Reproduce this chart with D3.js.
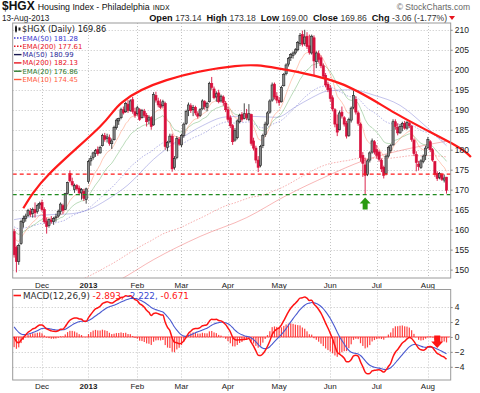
<!DOCTYPE html>
<html>
<head>
<meta charset="utf-8">
<script src="https://cdn.jsdelivr.net/npm/d3@7"></script>
<style>
body { margin: 0; background: #fff; }
svg { display: block; font-family: "Liberation Sans", Arial, sans-serif; }
</style>
</head>
<body>
<svg id="chart" width="480" height="393"></svg>
<script>
var firstDay = "2012-11-14", lastDay = "2013-08-13";
var holidays = ["2012-11-22","2012-12-25","2013-01-01","2013-01-21","2013-02-18",
                "2013-03-29","2013-05-27","2013-07-04"];
var monthLabels = ["Dec","2013","Feb","Mar","Apr","May","Jun","Jul","Aug"];
var priceTicks = [150,155,160,165,170,175,180,185,190,195,200,205,210];
var macdTicks = [-4,-2,0,2,4];

var open = [159.5,155.5,152.0,156.5,161.8,162.8,163.6,164.6,164.0,165.0,164.5,166.2,
  166.8,165.0,162.0,161.0,162.4,162.0,163.0,163.4,164.5,166.0,165.0,169.0,174.0,172.0,170.0,171.0,170.4,169.2,169.6,167.5,
  172.0,177.2,178.0,179.0,180.0,179.2,181.0,183.5,182.8,183.0,181.5,182.5,185.5,187.2,188.0,190.0,189.5,191.4,189.8,192.5,189.5,
  189.0,190.0,188.0,189.6,188.6,187.4,188.0,186.2,193.6,192.2,191.4,191.0,191.6,180.6,182.0,183.4,175.5,178.0,182.6,
  181.2,183.6,186.6,189.8,191.0,190.0,190.6,189.0,188.6,190.2,192.0,190.6,192.0,196.6,195.2,193.2,194.2,192.2,193.2,191.6,
  190.0,188.0,186.0,182.4,183.0,187.0,188.8,187.8,189.0,187.6,188.8,182.2,180.4,177.4,176.0,181.0,183.8,186.4,189.4,192.4,196.4,193.4,
  192.4,192.0,196.0,199.0,201.4,203.0,203.6,204.2,205.0,206.6,208.8,206.6,208.4,206.0,204.2,208.0,202.0,204.0,203.0,201.0,198.6,196.4,
  195.4,193.0,190.0,186.4,185.0,189.4,188.0,186.6,183.6,187.4,190.6,192.6,189.2,186.4,178.6,176.2,173.8,177.4,179.4,182.0,
  180.0,179.4,177.4,175.6,174.0,178.4,179.8,181.2,187.0,185.6,184.2,185.8,186.6,185.4,186.6,185.8,182.4,178.8,176.4,175.6,177.0,178.6,
  180.6,182.0,180.0,177.0,174.0,173.0,173.8,172.4,173.14];
var high = [160.2,156.0,156.5,162.5,163.5,164.0,165.2,165.4,165.5,166.8,166.5,167.0,
  167.5,165.6,163.0,162.8,163.4,163.2,164.0,165.0,166.8,166.5,169.2,172.0,174.8,173.0,171.5,171.4,171.0,170.4,170.2,170.5,
  177.5,178.5,179.5,180.2,180.8,181.0,184.0,184.2,184.0,183.8,182.8,186.0,187.8,188.0,190.5,190.8,192.0,192.4,192.6,193.2,190.5,
  191.0,190.4,190.2,190.2,189.2,188.6,188.4,194.4,194.5,193.0,192.6,192.5,192.0,182.2,184.0,184.0,178.4,183.4,183.2,
  184.0,186.8,190.0,191.8,191.6,191.2,191.0,189.6,190.4,192.6,192.4,192.0,197.0,198.2,195.8,194.6,195.0,193.8,193.6,192.2,
  190.8,188.6,186.4,185.4,187.6,189.0,189.4,191.6,190.2,191.4,189.0,183.0,181.0,178.4,181.2,184.0,187.0,189.6,192.6,196.8,196.8,194.4,
  193.2,196.0,199.2,201.6,203.2,204.2,204.6,205.4,207.2,209.2,209.8,210.0,209.4,208.8,208.8,208.6,204.6,204.8,203.6,201.6,199.2,197.0,
  196.2,193.6,190.4,188.8,189.8,190.8,188.4,187.2,188.0,190.8,194.8,193.4,189.6,186.8,179.4,178.0,177.6,179.6,182.8,182.4,
  181.2,179.8,177.8,176.0,178.8,181.0,181.4,187.6,187.6,186.6,186.4,187.0,187.2,187.2,187.4,186.2,182.8,179.6,177.2,177.6,178.8,181.0,
  183.2,182.4,180.4,177.2,174.6,174.4,174.2,173.8,173.18];
var low = [153.0,149.3,151.2,156.2,160.5,162.0,163.2,163.2,163.0,163.0,164.0,165.2,
  164.5,161.5,159.0,160.5,161.5,161.2,162.0,163.0,163.8,164.0,165.0,168.8,171.8,170.8,169.2,169.8,168.6,167.5,167.2,166.5,
  171.5,176.0,177.5,178.2,178.5,179.0,180.8,182.0,181.8,181.0,180.2,182.3,185.0,186.2,187.6,188.8,189.2,189.2,189.5,189.0,188.0,
  188.5,187.2,187.8,188.0,185.8,186.4,185.0,186.0,191.8,190.6,190.2,190.5,180.0,179.6,181.6,174.5,175.0,177.6,181.0,
  180.6,183.0,186.2,188.4,189.2,188.4,188.6,187.8,188.2,190.0,190.0,189.6,191.8,195.0,192.6,192.0,191.6,191.8,191.0,189.4,
  187.0,185.4,181.2,182.0,182.6,186.6,187.0,187.6,187.4,187.2,181.0,179.8,176.6,174.4,175.6,180.4,183.2,186.0,189.0,192.0,192.6,191.6,
  191.0,191.8,195.8,198.6,200.8,202.2,202.8,203.8,204.6,206.0,205.8,206.0,205.2,203.8,203.8,198.6,200.4,201.8,200.4,197.8,195.6,194.4,
  192.0,189.6,185.6,183.4,184.8,187.8,185.8,182.8,183.2,186.8,190.2,188.8,186.0,177.0,173.2,168.8,173.4,176.8,179.0,178.8,
  177.8,177.0,174.4,172.8,173.6,178.0,179.2,181.0,185.0,183.6,184.0,184.6,185.0,185.0,185.4,182.0,178.4,174.6,174.8,175.2,176.6,177.4,
  180.2,179.4,177.0,173.2,172.2,172.6,172.2,171.8,169.0];
var close = [153.7,152.0,156.0,162.0,162.8,163.4,164.8,163.8,165.0,164.2,166.0,166.5,
  165.0,162.0,160.8,162.5,162.0,162.8,163.2,164.6,166.4,164.8,169.0,171.8,172.2,171.2,171.0,170.2,169.2,170.0,167.8,170.2,
  177.0,177.8,179.2,179.8,179.0,180.6,183.6,182.6,183.2,181.6,182.2,185.6,187.4,187.8,190.0,189.2,191.6,189.8,192.2,189.6,188.6,
  190.5,187.6,189.8,188.6,187.0,188.0,185.8,193.8,192.4,191.2,190.6,192.0,180.8,181.8,183.4,175.2,177.8,182.8,181.4,
  183.6,186.4,189.6,191.2,189.8,190.6,189.2,188.4,190.0,192.2,190.8,191.6,196.6,195.6,193.0,194.0,192.0,193.4,191.8,190.0,
  187.6,186.0,182.0,184.8,187.2,188.6,187.6,189.0,188.0,189.0,181.6,180.4,177.4,175.6,180.8,183.6,186.4,189.2,192.2,196.2,193.2,192.4,
  191.8,195.6,198.8,201.2,202.8,203.8,204.2,205.0,206.8,208.6,206.4,208.2,205.8,204.4,208.4,202.2,204.2,202.6,201.0,198.4,196.2,195.0,
  192.8,190.2,186.4,184.4,189.2,188.4,186.4,183.4,187.6,190.4,193.6,189.4,186.6,178.0,176.6,173.6,177.2,179.2,182.2,179.4,
  178.6,177.6,175.2,173.6,178.4,180.6,181.0,187.0,185.8,184.2,185.8,186.6,185.4,186.8,186.0,182.6,179.0,176.8,175.8,177.2,178.4,180.4,
  182.6,180.0,177.4,173.8,172.8,174.0,172.6,172.92,169.86];

var ma50Points = [["2012-11-14",162.5],["2012-12-03",163.6],["2012-12-20",164.0],["2013-01-02",165.0],
  ["2013-01-14",167.5],["2013-01-28",171.2],["2013-02-12",177.6],["2013-02-28",182.5],["2013-03-14",186.0],
  ["2013-03-28",188.2],["2013-04-11",188.4],["2013-04-30",188.1],["2013-05-10",190.7],["2013-05-21",193.0],
  ["2013-05-31",194.7],["2013-06-14",195.0],["2013-06-28",193.6],["2013-07-16",191.1],["2013-07-30",186.4],
  ["2013-08-13",180.99]];
var ma200Points = [["2013-01-10",145.2],["2013-01-23",147.6],["2013-02-12",152.5],["2013-03-13",158.3],
  ["2013-04-11",163.0],["2013-05-06",168.5],["2013-05-31",173.5],["2013-06-21",177.2],["2013-07-22",180.3],
  ["2013-08-13",182.13]];

// EMA starting values at the left edge
var emaSeeds = {ema10: 159.5, ema20: 160.5, ema50: 161.0, ema200: 141.5, ema12: 160.8, ema26: 160.2, signal: 1.7};

// annotations: support lines and the arc (session number, price)
var supportLevels = [173.9, 168.75];
var arcSessions = [3.96, 15.4, 36.9, 46.3, 65.6, 95, 113.5, 140.2, 164.1, 188.2, 196.5];
var arcPrices   = [165.35, 174.1, 185.75, 191.8, 197.4, 200.9, 200.35, 196.6, 189.1, 181.6, 178.2];
var upArrowDate = "2013-06-24", downArrowDate = "2013-08-07";

var legendItems = [
  {text: "EMA(50) 181.28",  color: "#3a3acf", line: "#3a3acf", dash: "1.5,1.5"},
  {text: "EMA(200) 177.61", color: "#e8141e", line: "#e8141e", dash: "1.5,1.5"},
  {text: "MA(50) 180.99",   color: "#2a2a9a", line: "#1a1a50", dash: null},
  {text: "MA(200) 182.13",  color: "#e8141e", line: "#e8141e", dash: null},
  {text: "EMA(20) 176.86",  color: "#2d7a2d", line: "#2d7a2d", dash: null},
  {text: "EMA(10) 174.45",  color: "#ff5a3c", line: "#ff5a3c", dash: null}
];

// ---- helpers ----
function tradingDays(from, to, skip) {
  var out = [];
  var end = new Date(to + "T00:00:00Z");
  for (var d = new Date(from + "T00:00:00Z"); d <= end; d.setUTCDate(d.getUTCDate() + 1)) {
    var wd = d.getUTCDay(), s = d.toISOString().slice(0, 10);
    if (wd !== 0 && wd !== 6 && skip.indexOf(s) < 0) out.push(s);
  }
  return out;
}
function ema(series, n, seed) {
  var a = 2 / (n + 1), prev = seed;
  return series.map(function (v) { prev = prev + a * (v - prev); return prev; });
}

var dates = tradingDays(firstDay, lastDay, holidays);
var idx = function (s) { return dates.indexOf(s); };
var monthStarts = [];
dates.forEach(function (d, i) {
  if (i > 0 && d.slice(5, 7) !== dates[i - 1].slice(5, 7)) monthStarts.push(i);
});

var ema10 = ema(close, 10, emaSeeds.ema10);
var ema20 = ema(close, 20, emaSeeds.ema20);
var ema50 = ema(close, 50, emaSeeds.ema50);
var ema200 = ema(close, 200, emaSeeds.ema200);
var e12 = ema(close, 12, emaSeeds.ema12), e26 = ema(close, 26, emaSeeds.ema26);
var macd = e12.map(function (v, i) { return v - e26[i]; });
var signal = ema(macd, 9, emaSeeds.signal);
var hist = macd.map(function (v, i) { return v - signal[i]; });

// ---- layout ----
var L = 12.7, R = 450.7, T1 = 23, B1 = 278, T2 = 289.5, B2 = 380;
var svg = d3.select("#chart");
var x = d3.scaleLinear().domain([-0.6, 187.8]).range([L, R]);
var y = d3.scaleLinear().domain([147.9, 211.7]).range([B1, T1]);
var ym = d3.scaleLinear().domain([-5.77, 6.36]).range([B2, T2]);

var defs = svg.append("defs");
defs.append("clipPath").attr("id", "clipMain").append("rect")
  .attr("x", L).attr("y", T1).attr("width", R - L).attr("height", B1 - T1);
defs.append("clipPath").attr("id", "clipMacd").append("rect")
  .attr("x", L).attr("y", T2).attr("width", R - L).attr("height", B2 - T2);

// header
var head = svg.append("g").attr("fill", "#111");
var t1 = head.append("text").attr("x", 2).attr("y", 10);
t1.append("tspan").attr("font-weight", "bold").attr("font-size", 12).text("$HGX");
t1.append("tspan").attr("font-size", 8.8).attr("dx", 3).text("Housing Index - Philadelphia");
t1.append("tspan").attr("font-size", 6.8).attr("dx", 3).attr("font-family", "DejaVu Sans").text("INDX");
head.append("text").attr("x", 2).attr("y", 20.5).attr("font-size", 8.2).attr("fill", "#222").text("13-Aug-2013");
head.append("text").attr("x", 470).attr("y", 9.5).attr("text-anchor", "end")
  .attr("font-size", 8.5).attr("fill", "#666").text("\u00a9 StockCharts.com");
var quote = [["Open", "173.14"], ["High", "173.18"], ["Low", "169.00"], ["Close", "169.86"], ["Chg", "-3.06 (-1.77%)"]];
var t2 = head.append("text").attr("x", 447).attr("y", 20.5).attr("text-anchor", "end").attr("font-size", 8.6);
quote.forEach(function (q, i) {
  t2.append("tspan").attr("font-weight", "bold").attr("dx", i ? 5 : 0).attr("font-size", 9.2).text(q[0]);
  t2.append("tspan").attr("dx", 2.5).attr("fill", "#333").text(q[1]);
});
head.append("path").attr("d", "M449,16 L455,16 L452,20 Z").attr("fill", "#e8141e");

// panel grids
function grid(g, yScale, ticks, top, bottom) {
  g.selectAll(".hg").data(ticks).join("line")
    .attr("x1", L).attr("x2", R)
    .attr("y1", function (d) { return Math.round(yScale(d)) + 0.5; })
    .attr("y2", function (d) { return Math.round(yScale(d)) + 0.5; })
    .attr("stroke", "#c4c4c4").attr("stroke-dasharray", "1,2");
  g.selectAll(".vg").data(monthStarts).join("line")
    .attr("x1", function (d) { return Math.round(x(d)) + 0.5; })
    .attr("x2", function (d) { return Math.round(x(d)) + 0.5; })
    .attr("y1", top).attr("y2", bottom)
    .attr("stroke", "#c4c4c4").attr("stroke-dasharray", "1,2");
}
grid(svg.append("g"), y, priceTicks, T1, B1);
grid(svg.append("g"), ym, macdTicks, T2, B2);

// moving averages
var main = svg.append("g").attr("clip-path", "url(#clipMain)");
function seriesLine(values, color, dash, op) {
  main.append("path")
    .attr("d", d3.line().x(function (d, i) { return x(i); }).y(function (d) { return y(d); })(values))
    .attr("fill", "none").attr("stroke", color).attr("stroke-width", 1)
    .attr("stroke-dasharray", dash).attr("opacity", op);
}
function pointsLine(points, color, dash, op) {
  main.append("path")
    .attr("d", d3.line().curve(d3.curveMonotoneX)
      .x(function (d) { return x(idx(d[0])); }).y(function (d) { return y(d[1]); })(points))
    .attr("fill", "none").attr("stroke", color).attr("stroke-width", 1)
    .attr("stroke-dasharray", dash).attr("opacity", op);
}
pointsLine(ma200Points, "#f06060", null, 0.45);
seriesLine(ema200, "#f06060", "1.5,1.5", 0.5);
pointsLine(ma50Points, "#6a6ad0", null, 0.4);
seriesLine(ema50, "#6a6ad0", "1.5,1.5", 0.5);
seriesLine(ema20, "#3c9a3c", null, 0.35);
seriesLine(ema10, "#ff7a50", null, 0.4);

// candles
var candles = main.append("g");
var bars = dates.map(function (d, i) { return {i: i, o: open[i], h: high[i], l: low[i], c: close[i]}; });
candles.selectAll("line").data(bars).join("line")
  .attr("x1", function (d) { return x(d.i); }).attr("x2", function (d) { return x(d.i); })
  .attr("y1", function (d) { return y(d.h); }).attr("y2", function (d) { return y(d.l); })
  .attr("stroke", function (d) { return d.c < d.o ? "#d8103c" : "#333"; }).attr("stroke-width", 0.9);
candles.selectAll("rect").data(bars).join("rect")
  .attr("x", function (d) { return x(d.i) - 1.1; }).attr("width", 2.2)
  .attr("y", function (d) { return y(Math.max(d.o, d.c)); })
  .attr("height", function (d) { return Math.max(1, Math.abs(y(d.o) - y(d.c))); })
  .attr("fill", function (d) { return d.c < d.o ? "#d8103c" : "#8a8a8a"; })
  .attr("stroke", function (d) { return d.c < d.o ? "#d8103c" : "#222"; }).attr("stroke-width", 0.6);

// support lines
svg.selectAll(".sup").data(supportLevels).join("line")
  .attr("x1", L).attr("x2", R)
  .attr("y1", function (d) { return y(d); }).attr("y2", function (d) { return y(d); })
  .attr("stroke", function (d, i) { return i ? "#1f8a1f" : "#ff1a1a"; })
  .attr("stroke-width", 1.4).attr("stroke-dasharray", "4,3");

// arc
svg.append("path")
  .attr("d", d3.line().curve(d3.curveNatural)
    .x(function (d) { return x(d); }).y(function (d, i) { return y(arcPrices[i]); })(arcSessions))
  .attr("fill", "none").attr("stroke", "#ff1a1a").attr("stroke-width", 2.2);

// green arrow under the June low
var ua = idx(upArrowDate), ax = x(ua), ay = y(low[ua]) + 3;
svg.append("path")
  .attr("d", "M" + ax + "," + ay + " l-5.5,6 h3 v6 h5 v-6 h3 Z")
  .attr("fill", "#2a9a10");

// main frame + price axis
svg.append("rect").attr("x", L).attr("y", T1).attr("width", R - L).attr("height", B1 - T1)
  .attr("fill", "none").attr("stroke", "#9a9a9a");
var yAxis = svg.append("g").attr("transform", "translate(" + R + ",0)")
  .call(d3.axisRight(y).tickValues(priceTicks).tickSize(2).tickPadding(2).tickFormat(d3.format("d")));
yAxis.select(".domain").remove();
yAxis.selectAll("line").attr("stroke", "#888");
yAxis.selectAll("text").attr("font-size", 8.5).attr("fill", "#222").attr("font-family", "Liberation Sans, Arial");

// month labels
function monthAxis(baseline) {
  svg.append("g").selectAll("text").data(monthStarts).join("text")
    .attr("x", function (d) { return x(d); }).attr("y", baseline)
    .attr("text-anchor", "middle").attr("font-size", 8).attr("fill", "#222")
    .attr("font-weight", function (d, i) { return monthLabels[i] === "2013" ? "bold" : null; })
    .text(function (d, i) { return monthLabels[i]; });
}
monthAxis(288);
monthAxis(388.5);

// price legend
var lg = svg.append("g").attr("font-family", "DejaVu Sans");
lg.append("rect").attr("x", 15).attr("y", 26.5).attr("width", 2).attr("height", 5).attr("fill", "#222");
lg.append("line").attr("x1", 16).attr("x2", 16).attr("y1", 25.5).attr("y2", 32.5).attr("stroke", "#222");
lg.append("rect").attr("x", 18.5).attr("y", 27.5).attr("width", 2).attr("height", 3).attr("fill", "#222");
lg.append("text").attr("x", 22).attr("y", 31.5).attr("font-size", 8.2).attr("fill", "#222").text("$HGX (Daily) 169.86");
legendItems.forEach(function (it, k) {
  var by = 40.5 + k * 8.3;
  lg.append("line").attr("x1", 14).attr("x2", 21.5).attr("y1", by - 2.5).attr("y2", by - 2.5)
    .attr("stroke", it.line).attr("stroke-width", 1.4).attr("stroke-dasharray", it.dash);
  lg.append("text").attr("x", 22.5).attr("y", by).attr("font-size", 6.9).attr("fill", it.color).text(it.text);
});

// ---- MACD panel ----
var mg = svg.append("g").attr("clip-path", "url(#clipMacd)");
mg.selectAll("rect").data(hist).join("rect")
  .attr("x", function (d, i) { return x(i) - 0.6; }).attr("width", 1.2)
  .attr("y", function (d) { return Math.min(ym(d), ym(0)); })
  .attr("height", function (d) { return Math.abs(ym(d) - ym(0)); })
  .attr("fill", "#ff2020").attr("opacity", 0.85);
mg.append("line").attr("x1", L).attr("x2", R).attr("y1", ym(0)).attr("y2", ym(0))
  .attr("stroke", "#ff2020").attr("stroke-width", 0.8);
var mline = d3.line().curve(d3.curveMonotoneX).x(function (d, i) { return x(i); }).y(function (d) { return ym(d); });
mg.append("path").attr("d", mline(signal)).attr("fill", "none").attr("stroke", "#4a5ad0").attr("stroke-width", 1.1);
mg.append("path").attr("d", mline(macd)).attr("fill", "none").attr("stroke", "#ff1414").attr("stroke-width", 1.5);

// red arrow on MACD
var da = idx(downArrowDate), dx = x(da), dy = ym(0.2);
svg.append("path")
  .attr("d", "M" + (dx - 3) + "," + dy + " h6 v6 h3 l-6,6.5 l-6,-6.5 h3 Z")
  .attr("fill", "#ff1414");

svg.append("rect").attr("x", L).attr("y", T2).attr("width", R - L).attr("height", B2 - T2)
  .attr("fill", "none").attr("stroke", "#9a9a9a");
var mAxis = svg.append("g").attr("transform", "translate(" + R + ",0)")
  .call(d3.axisRight(ym).tickValues(macdTicks).tickSize(2).tickPadding(2).tickFormat(d3.format("d")));
mAxis.select(".domain").remove();
mAxis.selectAll("line").attr("stroke", "#888");
mAxis.selectAll("text").attr("font-size", 8.5).attr("fill", "#222").attr("font-family", "Liberation Sans, Arial");

// MACD legend
svg.append("line").attr("x1", 13.5).attr("x2", 21).attr("y1", 295.5).attr("y2", 295.5)
  .attr("stroke", "#ff1414").attr("stroke-width", 1.6);
var ml = svg.append("text").attr("x", 23).attr("y", 298.5).attr("font-size", 8.8).attr("font-family", "DejaVu Sans");
ml.append("tspan").attr("fill", "#333").text("MACD(12,26,9)");
ml.append("tspan").attr("fill", "#ff1414").text(" -2.893,");
ml.append("tspan").attr("fill", "#3a4ad0").text(" -2.222,");
ml.append("tspan").attr("fill", "#ff1414").text(" -0.671");
</script>
</body>
</html>
